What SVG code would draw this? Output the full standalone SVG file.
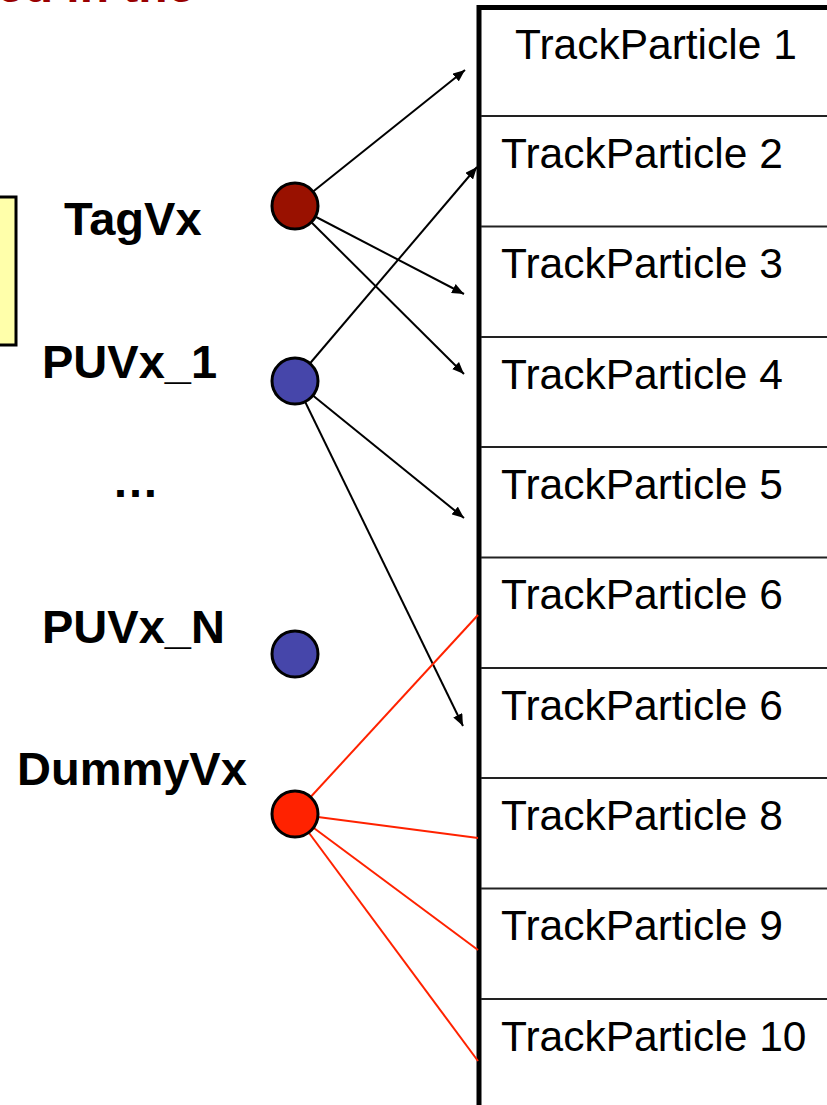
<svg xmlns="http://www.w3.org/2000/svg" width="827" height="1105" viewBox="0 0 827 1105">
  <style>
    .lbl { font-family: "Liberation Sans", Arial, sans-serif; font-weight: bold; font-size: 47px; fill: #000; }
    .tp { font-family: "Liberation Sans", Arial, sans-serif; font-size: 42.5px; fill: #000; }
    .sep { stroke: #222; stroke-width: 2; }
    .arr { stroke: #000; stroke-width: 2; fill: none; marker-end: url(#ah); }
    .red { stroke: #ff2200; stroke-width: 2; fill: none; }
    .vx { stroke: #000; stroke-width: 3; }
  </style>
  <defs>
    <marker id="ah" viewBox="0 0 12 10" refX="12" refY="5" markerWidth="12" markerHeight="10" markerUnits="userSpaceOnUse" orient="auto">
      <path d="M0,0 L12,5 L0,10 Z" fill="#000"/>
    </marker>
  </defs>
  <rect width="827" height="1105" fill="#fff"/>

  <!-- title line running off the top edge -->
  <text x="-3" y="1.5" font-family="Liberation Sans, Arial, sans-serif" font-weight="bold" font-size="48" fill="#990000">ed in the</text>

  <!-- yellow note box clipped at the left edge -->
  <rect x="-20" y="197" width="36" height="148" fill="#ffffaa" stroke="#000" stroke-width="3"/>

  <!-- track particle table -->
  <g id="table">
    <line x1="479" y1="5" x2="479" y2="1105" stroke="#000" stroke-width="5"/>
    <line x1="477" y1="7.5" x2="827" y2="7.5" stroke="#000" stroke-width="5"/>
    <line class="sep" x1="481" y1="116" x2="827" y2="116"/>
    <line class="sep" x1="481" y1="226.5" x2="827" y2="226.5"/>
    <line class="sep" x1="481" y1="337" x2="827" y2="337"/>
    <line class="sep" x1="481" y1="447" x2="827" y2="447"/>
    <line class="sep" x1="481" y1="557.5" x2="827" y2="557.5"/>
    <line class="sep" x1="481" y1="668" x2="827" y2="668"/>
    <line class="sep" x1="481" y1="778" x2="827" y2="778"/>
    <line class="sep" x1="481" y1="888.5" x2="827" y2="888.5"/>
    <line class="sep" x1="481" y1="999" x2="827" y2="999"/>
    <text class="tp" x="515" y="59">TrackParticle 1</text>
    <text class="tp" x="501" y="168">TrackParticle 2</text>
    <text class="tp" x="501" y="278">TrackParticle 3</text>
    <text class="tp" x="501" y="389">TrackParticle 4</text>
    <text class="tp" x="501" y="499">TrackParticle 5</text>
    <text class="tp" x="501" y="609">TrackParticle 6</text>
    <text class="tp" x="501" y="720">TrackParticle 6</text>
    <text class="tp" x="501" y="830">TrackParticle 8</text>
    <text class="tp" x="501" y="940">TrackParticle 9</text>
    <text class="tp" x="501" y="1051">TrackParticle 10</text>
  </g>

  <!-- vertex-to-track links -->
  <g id="connectors">
    <line class="arr" x1="295" y1="206" x2="465" y2="70"/>
    <line class="arr" x1="295" y1="206" x2="464" y2="294"/>
    <line class="arr" x1="295" y1="206" x2="464" y2="374"/>
    <line class="arr" x1="295" y1="381" x2="477" y2="167"/>
    <line class="arr" x1="295" y1="381" x2="464" y2="518"/>
    <line class="arr" x1="295" y1="381" x2="463" y2="726"/>
    <line class="red" x1="295" y1="814" x2="478" y2="615"/>
    <line class="red" x1="295" y1="814" x2="478" y2="838"/>
    <line class="red" x1="295" y1="814" x2="478" y2="950"/>
    <line class="red" x1="295" y1="814" x2="478" y2="1061"/>
  </g>

  <g id="tagvx">
    <text class="lbl" x="64" y="235">TagVx</text>
    <circle class="vx" cx="295" cy="206" r="23" fill="#991100"/>
  </g>
  <g id="puvx1">
    <text class="lbl" x="42" y="378">PUVx_1</text>
    <circle class="vx" cx="295" cy="381" r="23" fill="#4646aa"/>
  </g>
  <g id="ellipsis">
    <text class="lbl" x="112" y="497">…</text>
  </g>
  <g id="puvxn">
    <text class="lbl" x="42" y="643">PUVx_N</text>
    <circle class="vx" cx="295" cy="654" r="23" fill="#4646aa"/>
  </g>
  <g id="dummyvx">
    <text class="lbl" x="17" y="785">DummyVx</text>
    <circle class="vx" cx="295" cy="814" r="23" fill="#ff2200"/>
  </g>
</svg>
